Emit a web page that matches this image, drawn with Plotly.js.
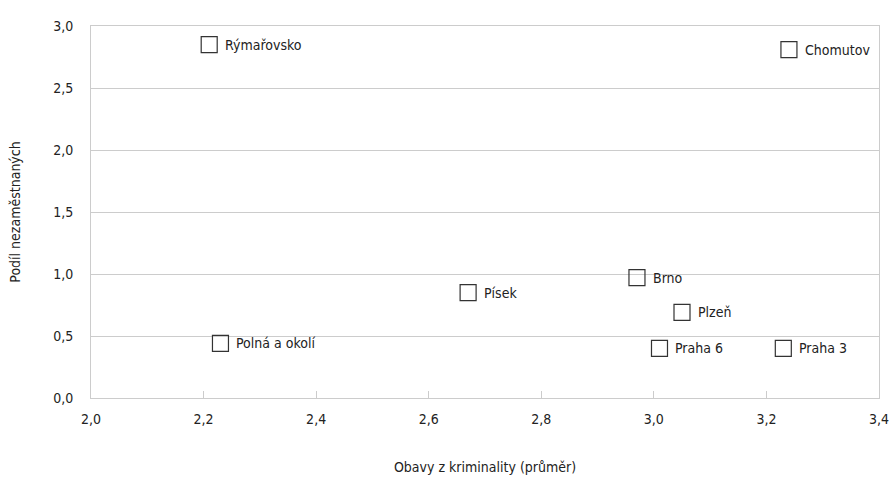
<!DOCTYPE html>
<html><head><meta charset="utf-8">
<script src="https://cdn.plot.ly/plotly-3.0.1.min.js"></script>
<style>html,body{margin:0;padding:0;background:#fff}
#chart text{font-stretch:condensed !important;}</style>
</head><body>
<div id="chart" style="width:889px;height:483px"></div>
<script>
const regions = ["Rýmařovsko","Chomutov","Polná a okolí","Písek","Brno","Plzeň","Praha 6","Praha 3"];
const crimeFear = [2.21, 3.24, 2.23, 2.67, 2.97, 3.05, 3.01, 3.23];
const unemployedShare = [2.85, 2.81, 0.44, 0.85, 0.97, 0.69, 0.40, 0.40];
const xTicks = [2.0, 2.2, 2.4, 2.6, 2.8, 3.0, 3.2, 3.4];
const yTicks = [0.0, 0.5, 1.0, 1.5, 2.0, 2.5, 3.0];

const FONT = '"DejaVu Sans Condensed", "DejaVu Sans", sans-serif';
const FS = 14;

const annotations = regions.map((r, i) => ({
  x: crimeFear[i], y: unemployedShare[i], xref: 'x', yref: 'y',
  text: r, showarrow: false, xanchor: 'left', yanchor: 'middle',
  xshift: 14, font: {family: FONT, size: FS, color: '#222'}
}));

Plotly.newPlot('chart', [{
  type: 'scatter',
  mode: 'markers',
  x: crimeFear,
  y: unemployedShare,
  marker: {symbol: 'square-open', size: 16, color: '#333', line: {width: 1.2, color: '#333'}},
  hoverinfo: 'skip',
  cliponaxis: false
}], {
  width: 889, height: 483,
  margin: {l: 91, r: 10, t: 26, b: 85},
  paper_bgcolor: '#fff', plot_bgcolor: '#fff',
  showlegend: false,
  separators: ', ',
  font: {family: FONT, size: FS, color: '#222'},
  annotations: annotations,
  xaxis: {
    range: [2.0, 3.4], tickvals: xTicks, tickformat: '.1f',
    showgrid: false, zeroline: false,
    showline: true, mirror: true, linecolor: '#cccccc', linewidth: 1,
    ticks: 'inside', ticklen: 7, tickcolor: '#cccccc',
    ticklabelstandoff: 8, ticklabeloverflow: 'allow',
    tickfont: {family: FONT, size: FS, color: '#222'},
    title: {text: 'Obavy z kriminality (průměr)', font: {family: FONT, size: FS, color: '#222'}, standoff: 36}
  },
  yaxis: {
    range: [0, 3.0], tickvals: yTicks, tickformat: '.1f',
    showgrid: true, gridcolor: '#cccccc', gridwidth: 1, zeroline: false,
    showline: true, mirror: true, linecolor: '#cccccc', linewidth: 1,
    ticks: '', ticklabelstandoff: 14,
    tickfont: {family: FONT, size: FS, color: '#222'},
    title: {text: 'Podíl nezaměstnaných', font: {family: FONT, size: FS, color: '#222'}, standoff: 29}
  }
}, {staticPlot: true});
</script>
</body></html>
